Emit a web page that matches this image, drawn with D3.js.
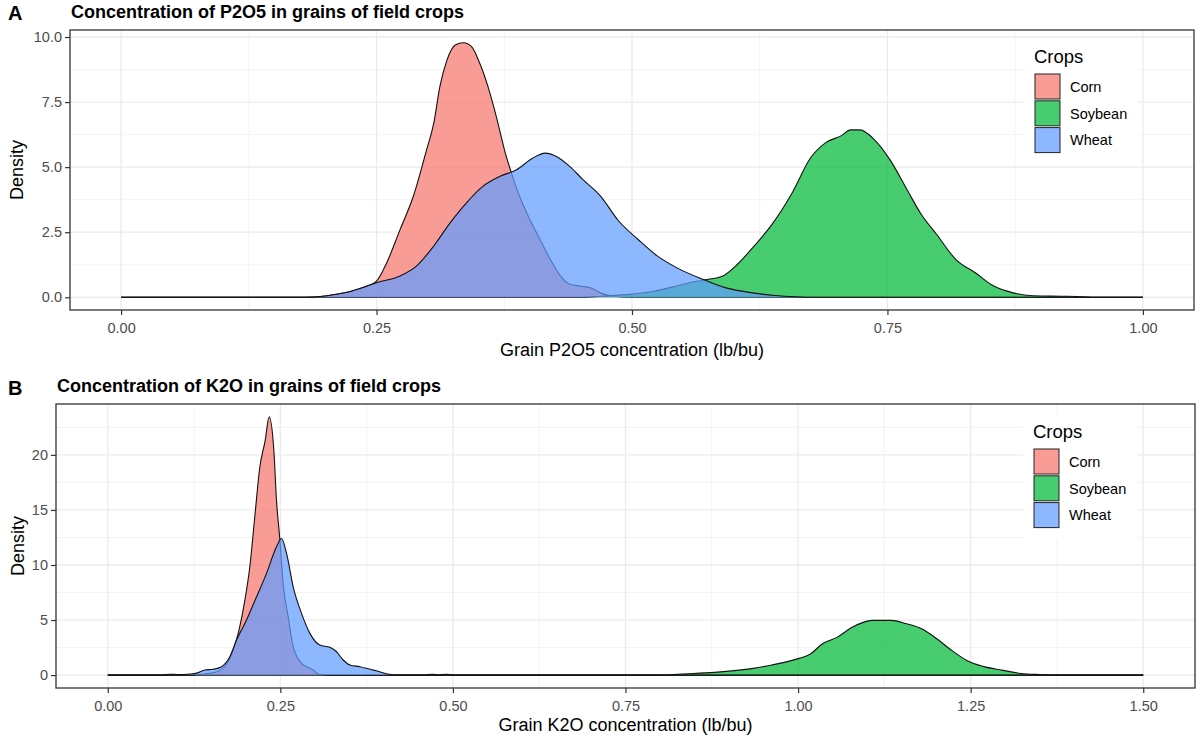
<!DOCTYPE html>
<html><head><meta charset="utf-8">
<script src="https://cdn.jsdelivr.net/npm/d3@7"></script>
<style>body{margin:0;background:#fff} text{font-family:"Liberation Sans",Arial,sans-serif}</style>
</head><body><svg id="c" width="1200" height="741"></svg>
<script>
// ---------- data ----------
const crops = ["Corn", "Soybean", "Wheat"];
const cropColors = ["#F8766D", "#00BA38", "#619CFF"];

// Panel A : P2O5 (lb/bu)
const p2o5XTicks = [0, 0.25, 0.5, 0.75, 1];
const p2o5YTicks = [0, 2.5, 5, 7.5, 10];
const cornP2O5X = [0, 0.18, 0.20, 0.22, 0.24, 0.25, 0.26, 0.273, 0.286, 0.299, 0.306, 0.312, 0.319, 0.327, 0.335, 0.343, 0.351, 0.359, 0.368, 0.376, 0.382, 0.390, 0.400, 0.410, 0.420, 0.430, 0.439, 0.449, 0.46, 0.47, 0.48, 0.50, 1.0];
const cornP2O5Y = [0, 0, 0.05, 0.18, 0.42, 0.62, 1.33, 2.6, 3.88, 5.67, 6.69, 8.1, 9.12, 9.69, 9.78, 9.63, 8.99, 8.1, 6.82, 5.54, 4.78, 3.88, 2.99, 2.22, 1.46, 0.82, 0.5, 0.43, 0.36, 0.15, 0.05, 0, 0];
const soyP2O5X = [0, 0.45, 0.47, 0.50, 0.52, 0.54, 0.555, 0.573, 0.589, 0.603, 0.618, 0.637, 0.656, 0.675, 0.690, 0.705, 0.714, 0.723, 0.738, 0.753, 0.768, 0.783, 0.798, 0.817, 0.836, 0.854, 0.873, 0.892, 0.92, 0.935, 0.95, 1.0];
const soyP2O5Y = [0, 0, 0.04, 0.12, 0.22, 0.4, 0.55, 0.68, 0.82, 1.26, 1.9, 2.8, 3.96, 5.37, 5.95, 6.21, 6.43, 6.43, 6.02, 5.25, 4.22, 3.19, 2.42, 1.45, 0.94, 0.43, 0.17, 0.06, 0.04, 0.03, 0, 0];
const wheatP2O5X = [0, 0.18, 0.20, 0.22, 0.24, 0.25, 0.273, 0.289, 0.306, 0.322, 0.338, 0.354, 0.371, 0.387, 0.403, 0.415, 0.426, 0.439, 0.452, 0.469, 0.487, 0.506, 0.525, 0.544, 0.570, 0.592, 0.618, 0.64, 0.66, 0.68, 1.0];
const wheatP2O5Y = [0, 0, 0.05, 0.18, 0.42, 0.56, 0.82, 1.2, 1.97, 2.86, 3.63, 4.26, 4.65, 4.9, 5.35, 5.54, 5.41, 5.03, 4.52, 3.9, 2.93, 2.22, 1.58, 1.13, 0.68, 0.36, 0.17, 0.07, 0.02, 0, 0];

// Panel B : K2O (lb/bu)
const k2oXTicks = [0, 0.25, 0.5, 0.75, 1, 1.25, 1.5];
const k2oYTicks = [0, 5, 10, 15, 20];
const cornK2OX = [0, 0.12, 0.14, 0.16, 0.17, 0.1816, 0.1889, 0.1986, 0.2058, 0.213, 0.2203, 0.228, 0.2338, 0.2406, 0.2444, 0.2493, 0.254, 0.2613, 0.2686, 0.2807, 0.2976, 0.305, 0.32, 1.5];
const cornK2OY = [0, 0, 0.1, 0.35, 0.8, 2.28, 3.79, 6.81, 9.84, 14.4, 18.9, 21.3, 23.45, 20.4, 15.9, 12.3, 8.33, 5.3, 2.58, 1.07, 0.46, 0.1, 0, 0];
const soyK2OX = [0, 0.80, 0.83, 0.879, 0.935, 0.962, 1.0014, 1.018, 1.035, 1.057, 1.079, 1.107, 1.135, 1.157, 1.179, 1.201, 1.223, 1.245, 1.268, 1.295, 1.323, 1.35, 1.37, 1.5];
const soyK2OY = [0, 0, 0.1, 0.25, 0.61, 0.92, 1.52, 1.92, 2.83, 3.45, 4.36, 4.97, 4.97, 4.66, 4.21, 3.3, 2.22, 1.31, 0.79, 0.45, 0.15, 0.05, 0, 0];
const wheatK2OX = [0, 0.08, 0.09, 0.10, 0.12, 0.13, 0.1406, 0.1527, 0.1647, 0.1768, 0.1865, 0.2010, 0.2155, 0.2300, 0.2444, 0.2517, 0.259, 0.2686, 0.2807, 0.2928, 0.3072, 0.3217, 0.3314, 0.341, 0.3507, 0.3652, 0.3797, 0.394, 0.405, 0.42, 0.46, 0.47, 0.48, 0.49, 0.50, 1.5];
const wheatK2OY = [0, 0, 0.08, 0.05, 0.1, 0.2, 0.46, 0.53, 0.76, 1.67, 3.18, 5.0, 7.11, 9.24, 11.65, 12.41, 11.05, 8.02, 5.6, 3.79, 2.73, 2.52, 2.12, 1.37, 0.92, 0.76, 0.53, 0.31, 0.1, 0, 0, 0.08, 0, 0.08, 0, 0];

// ---------- drawing ----------
const svg = d3.select("#c");
const FONT = '"Liberation Sans", Arial, sans-serif';

function zipXY(xs, ys) { return xs.map((x, i) => ({x: x, y: ys[i]})); }

function drawPanel(cfg) {
  const g = svg.append("g");
  const xMin = cfg.xTicks[0], xMax = cfg.xTicks[cfg.xTicks.length - 1];
  const xPad = (xMax - xMin) * 0.05;
  const yMax = d3.max(cfg.series, s => d3.max(s.y));
  const yPad = yMax * 0.05;
  const x = d3.scaleLinear().domain([xMin - xPad, xMax + xPad]).range([cfg.left, cfg.right]);
  const y = d3.scaleLinear().domain([-yPad, yMax + yPad]).range([cfg.bottom, cfg.top]);

  // minor grid
  const xMinor = d3.pairs(cfg.xTicks).map(p => (p[0] + p[1]) / 2);
  const yMinor = d3.pairs(cfg.yTicks).map(p => (p[0] + p[1]) / 2);
  if (cfg.yTicks[cfg.yTicks.length - 1] + (cfg.yTicks[1] - cfg.yTicks[0]) / 2 < yMax + yPad)
    yMinor.push(cfg.yTicks[cfg.yTicks.length - 1] + (cfg.yTicks[1] - cfg.yTicks[0]) / 2);
  g.selectAll(".vmin").data(xMinor).enter().append("line")
    .attr("x1", d => x(d)).attr("x2", d => x(d)).attr("y1", cfg.top).attr("y2", cfg.bottom)
    .attr("stroke", "#F0F0F0").attr("stroke-width", 0.8);
  g.selectAll(".hmin").data(yMinor).enter().append("line")
    .attr("y1", d => y(d)).attr("y2", d => y(d)).attr("x1", cfg.left).attr("x2", cfg.right)
    .attr("stroke", "#F0F0F0").attr("stroke-width", 0.8);
  // major grid
  g.selectAll(".vmaj").data(cfg.xTicks).enter().append("line")
    .attr("x1", d => x(d)).attr("x2", d => x(d)).attr("y1", cfg.top).attr("y2", cfg.bottom)
    .attr("stroke", "#EBEBEB").attr("stroke-width", 1.3);
  g.selectAll(".hmaj").data(cfg.yTicks).enter().append("line")
    .attr("y1", d => y(d)).attr("y2", d => y(d)).attr("x1", cfg.left).attr("x2", cfg.right)
    .attr("stroke", "#EBEBEB").attr("stroke-width", 1.3);

  // legend background (white box over grid)
  const lg = cfg.legend;
  g.append("rect").attr("x", lg.boxX).attr("y", lg.boxY).attr("width", lg.boxW).attr("height", lg.boxH).attr("fill", "#fff");

  // densities
  const area = d3.area().x(d => x(d.x)).y0(y(0)).y1(d => y(d.y)).curve(d3.curveMonotoneX);
  const line = d3.line().x(d => x(d.x)).y(d => y(d.y)).curve(d3.curveMonotoneX);
  cfg.series.forEach((s, i) => {
    const pts = zipXY(s.x, s.y);
    g.append("path").attr("d", area(pts)).attr("fill", cropColors[i]).attr("fill-opacity", 0.72);
    g.append("path").attr("d", line(pts)).attr("fill", "none").attr("stroke", "#111").attr("stroke-width", 1.1);
  });

  // legend
  g.append("text").attr("x", lg.x).attr("y", lg.titleY).text("Crops")
    .attr("font-size", 18.5).attr("fill", "#000").attr("font-family", FONT);
  crops.forEach((c, i) => {
    const ky = lg.keyY + i * 26.8;
    g.append("rect").attr("x", lg.x + 1).attr("y", ky).attr("width", 25).attr("height", 25)
      .attr("fill", cropColors[i]).attr("fill-opacity", 0.72).attr("stroke", "#222").attr("stroke-width", 1);
    g.append("text").attr("x", lg.x + 36).attr("y", ky + 12.5).attr("dy", "0.36em").text(c)
      .attr("font-size", 14.5).attr("fill", "#000").attr("font-family", FONT);
  });

  // panel border
  g.append("rect").attr("x", cfg.left).attr("y", cfg.top).attr("width", cfg.right - cfg.left).attr("height", cfg.bottom - cfg.top)
    .attr("fill", "none").attr("stroke", "#333").attr("stroke-width", 1.3);

  // axes
  const xAxis = g.append("g").attr("transform", `translate(0,${cfg.bottom})`)
    .call(d3.axisBottom(x).tickValues(cfg.xTicks).tickFormat(d3.format(cfg.xFmt)).tickSize(5).tickPadding(8));
  const yAxis = g.append("g").attr("transform", `translate(${cfg.left},0)`)
    .call(d3.axisLeft(y).tickValues(cfg.yTicks).tickFormat(d3.format(cfg.yFmt)).tickSize(5).tickPadding(3));
  [xAxis, yAxis].forEach(a => {
    a.select(".domain").remove();
    a.selectAll(".tick line").attr("stroke", "#333").attr("stroke-width", 1.2);
    a.selectAll(".tick text").attr("fill", "#4D4D4D").attr("font-size", 14.5).attr("font-family", FONT);
  });

  // axis titles
  g.append("text").attr("x", (cfg.left + cfg.right) / 2).attr("y", cfg.xTitleY).attr("text-anchor", "middle")
    .text(cfg.xTitle).attr("font-size", 18).attr("fill", "#000").attr("font-family", FONT);
  g.append("text").attr("transform", `translate(${cfg.yTitleX},${(cfg.top + cfg.bottom) / 2}) rotate(-90)`)
    .attr("text-anchor", "middle").text("Density").attr("font-size", 18).attr("fill", "#000").attr("font-family", FONT);

  // title + tag
  g.append("text").attr("x", cfg.left + 1).attr("y", cfg.titleY).text(cfg.title)
    .attr("font-size", 18).attr("font-weight", "bold").attr("fill", "#000").attr("font-family", FONT);
  g.append("text").attr("x", 8).attr("y", cfg.tagY).text(cfg.tag)
    .attr("font-size", 20).attr("font-weight", "bold").attr("fill", "#000").attr("font-family", FONT);
}

drawPanel({
  left: 70, right: 1194, top: 30, bottom: 310,
  xTicks: p2o5XTicks, yTicks: p2o5YTicks, xFmt: ".2f", yFmt: ".1f",
  series: [{x: cornP2O5X, y: cornP2O5Y}, {x: soyP2O5X, y: soyP2O5Y}, {x: wheatP2O5X, y: wheatP2O5Y}],
  xTitle: "Grain P2O5 concentration (lb/bu)", xTitleY: 356, yTitleX: 23,
  title: "Concentration of P2O5 in grains of field crops", titleY: 18, tag: "A", tagY: 20,
  legend: {x: 1034, titleY: 63, keyY: 74, boxX: 1025, boxY: 40, boxW: 113, boxH: 123}
});
drawPanel({
  left: 56, right: 1195, top: 404, bottom: 688,
  xTicks: k2oXTicks, yTicks: k2oYTicks, xFmt: ".2f", yFmt: "d",
  series: [{x: cornK2OX, y: cornK2OY}, {x: soyK2OX, y: soyK2OY}, {x: wheatK2OX, y: wheatK2OY}],
  xTitle: "Grain K2O concentration (lb/bu)", xTitleY: 731, yTitleX: 24,
  title: "Concentration of K2O in grains of field crops", titleY: 392, tag: "B", tagY: 395,
  legend: {x: 1033, titleY: 438, keyY: 449, boxX: 1023, boxY: 414, boxW: 115, boxH: 126}
});
</script></body></html>
